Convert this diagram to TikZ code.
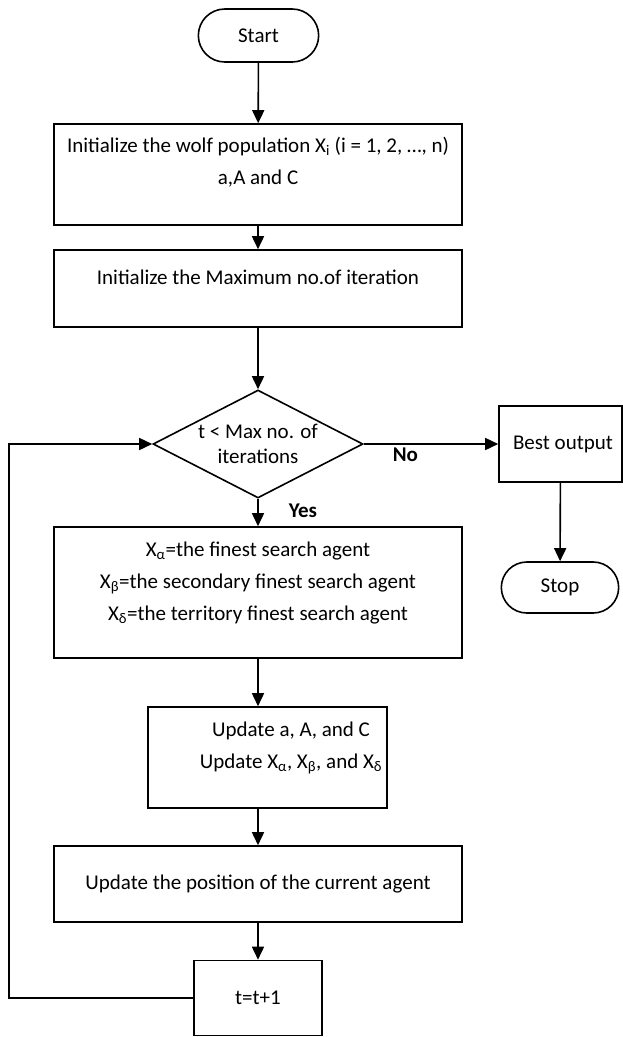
\documentclass[tikz,border=0pt]{standalone}
\usepackage{fontspec}
\setmainfont{Carlito}
\usetikzlibrary{
		positioning,
		arrows.meta,
		shapes.geometric,
		shapes.misc
	}
\tikzset{
		>={Triangle[length=13pt,width=12pt]}
	}

\begin{document}
\begin{tikzpicture}[x=1pt, y=-1pt, line width=1.6pt,
				font=\fontsize{21}{32}\selectfont,
				terminal/.style={rounded rectangle, draw, minimum width=127pt, minimum height=53pt},
				stepbox/.style={rectangle, draw, inner sep=0pt},
				decision/.style={diamond, draw, aspect=1.94, inner sep=0pt, minimum width=210pt, minimum height=108pt, align=center, font=\fontsize{21}{25}\selectfont},
				caption/.style={align=center, inner sep=0pt},
				answer/.style={inner sep=0pt, font=\fontsize{21}{25}\selectfont\bfseries}]
	\useasboundingbox (0,0) rectangle (623,1037);
	\node[terminal] (start) at (258.5,35.5) {Start};
	\node[stepbox, minimum width=408pt, minimum height=101pt,
		label={[caption, name=initT, yshift=12.5pt]center:{Initialize the wolf population X\textsubscript{i} (i = 1, 2, …, n)\\a,A and C}}] (init) at (258,174.5) {};
	\node[stepbox, minimum width=408pt, minimum height=77pt,
		label={[caption, name=maxT, yshift=11pt]center:{Initialize the Maximum no.of iteration}}] (maxit) at (258,288.5) {};
	\node[decision] (test) at (258,444) {t < Max no. of\\iterations};
	\node[stepbox, minimum width=408pt, minimum height=131pt,
		label={[caption, name=leadT, yshift=9.5pt]center:{X\textsubscript{α}=the finest search agent\\X\textsubscript{β}=the secondary finest search agent\\X\textsubscript{δ}=the territory finest search agent}}] (leaders) at (258,592.5) {};
	\node[stepbox, minimum width=239pt, minimum height=101pt,
		label={[caption, name=updT, xshift=23.5pt, yshift=9.5pt]center:{Update a, A, and C\\Update X\textsubscript{α}, X\textsubscript{β}, and X\textsubscript{δ}}}] (update) at (267.5,757.5) {};
	\node[stepbox, minimum width=408pt, minimum height=76pt] (position) at (258,884) {Update the position of the current agent};
	\node[stepbox, minimum width=128pt, minimum height=75pt] (tinc) at (258,998) {t=t+1};
	\node[stepbox, minimum width=123pt, minimum height=76pt,
		label={[caption, name=bestT, xshift=2.5pt]center:{Best output}}] (best) at (560.5,444) {};
	\node[terminal, minimum width=124pt, minimum height=51pt] (stop) at (560,587.5) {Stop};
	\node[answer] (yesL) at (303,511) {Yes};
	\coordinate (loopx) at (9,0);

	\draw[->] (start) -- (init);
	\draw[->] (init) -- (maxit);
	\draw[->] (maxit) -- (test);
	\draw[->] (test) -- (leaders);
	\draw[->] (leaders) -- (leaders |- update.north);
	\draw[->] (update.south -| position) -- (position);
	\draw[->] (position) -- (tinc);
	\draw[->] (tinc.west) -- (tinc.west -| loopx) |- (test.west);
	\draw[->] (test.east) -- node[answer, name=noL, pos=0.31, below=3pt] {No} (best.west);
	\draw[->] (best) -- (stop);
\end{tikzpicture}
\end{document}
